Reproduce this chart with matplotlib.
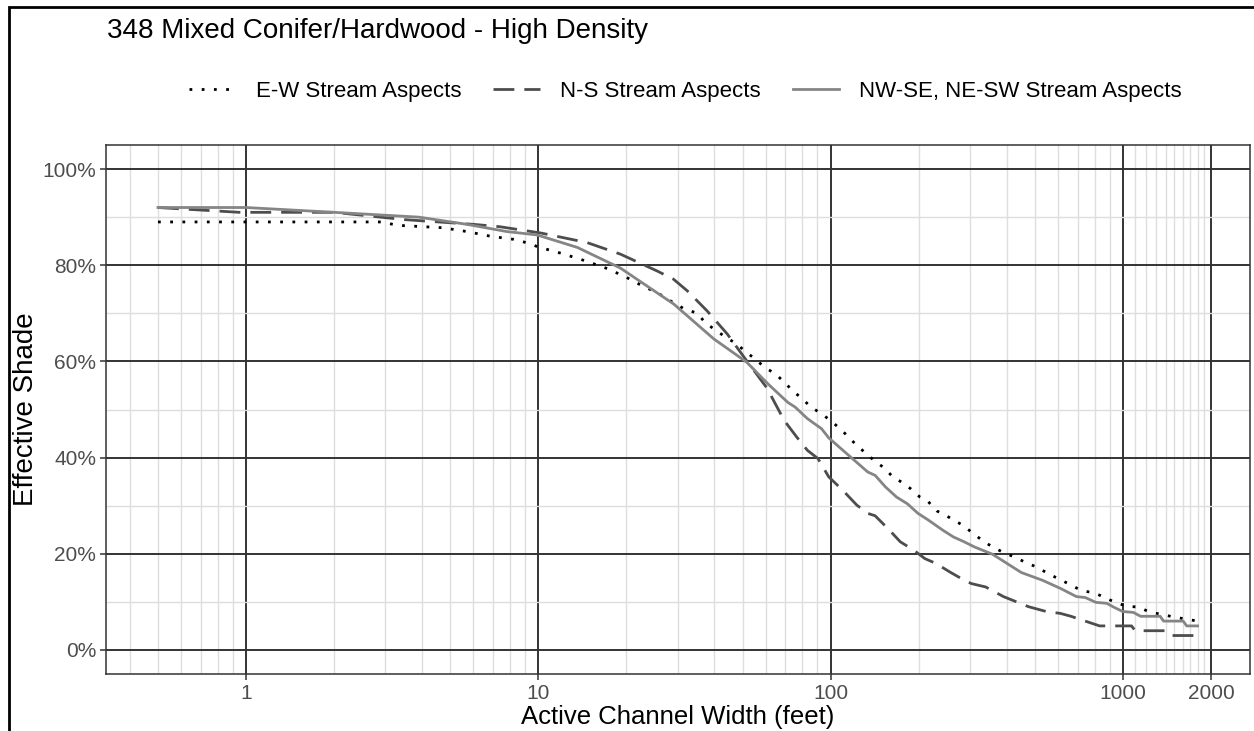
import matplotlib
matplotlib.use("Agg")
import matplotlib.pyplot as plt
from matplotlib.patches import Rectangle

plt.rcParams['font.family'] = ['Liberation Sans', 'DejaVu Sans']

# values (width in feet, effective shade in %)
ew_width = [0.5, 2.9, 3.3, 4.7, 5.7, 6.9, 8.2, 9.1, 10, 12.1, 14.5, 17.4, 20.6, 22.7,
            25.5, 29, 31.4, 35, 37.3, 40.2, 43.6, 47.5, 51.3, 55.4, 59.4, 64.7, 69.4,
            74.4, 79.8, 85.6, 93.2, 100.8, 108.7, 115, 123, 132, 142, 153, 163, 176,
            188, 202, 216, 231, 249, 267, 286, 307, 332, 360, 393, 430, 468, 509, 557,
            607, 664, 723, 797, 866, 948, 1032, 1132, 1232, 1359, 1478, 1800]
ew_shade = [89, 89, 88.3, 87.8, 87, 86, 85.4, 84.7, 83.8, 82.4, 80.9, 79.2, 77.1, 75.7,
            74.3, 72.2, 71, 70, 68, 66.6, 65.1, 63.7, 62, 60.4, 58.8, 57.4, 55.7,
            53.8, 52.3, 50.5, 49.1, 47.5, 45.8, 44.3, 42.5, 40.9, 39.2, 37.8, 36, 34.8,
            33.5, 31.8, 30.8, 28.9, 27.9, 26.8, 25.8, 24.2, 22.7, 21.3, 20.2, 19.2, 18.1,
            17.2, 15.8, 14.7, 13.5, 12.3, 11.9, 10.9, 9.8, 9.1, 8.9, 7.9, 7.4, 6.9, 6]

ns_width = [0.5, 0.95, 2.0, 3.46, 6, 7.4, 10.2, 14.7, 19.1, 25.5, 29, 32.3, 37.8, 44.3,
            51.8, 60.5, 69.4, 76.5, 83.3, 90.5, 98.5, 110, 123, 134, 142, 159, 173, 193,
            210, 229, 256, 279, 303, 339, 390, 475, 546, 611, 664, 743, 832, 1070, 1101,
            1400, 1457, 1800]
ns_shade = [92, 91, 91, 89.5, 88.5, 88, 86.7, 84.7, 82.3, 78.8, 77.1, 74.7, 70.5, 65.7,
            60, 54.5, 47.7, 44.3, 41.5, 39.8, 36, 33.2, 30.1, 28.4, 27.9, 24.9, 22.5, 20.7,
            19, 18, 16.2, 14.9, 13.8, 13.1, 11.1, 9, 8, 7.6, 7, 6, 5, 5, 4,
            4, 3, 3]

nw_width = [0.5, 1.0, 2.0, 3.9, 5.7, 7.8, 9.9, 13.6, 19.1, 29.1, 39.8, 45.5, 51.7, 61.1,
            71.3, 75.6, 83.3, 93.1, 98.5, 116.6, 134, 142, 154, 168, 183, 199, 216, 242,
            263, 286, 311, 358, 401, 449, 530, 611, 693, 743, 808, 880, 930, 998, 1086,
            1149, 1340, 1377, 1607, 1652, 1800]
nw_shade = [92, 92, 91, 90, 88.5, 87, 86.3, 83.7, 79.4, 71.9, 64.7, 62.2, 59.8, 55.3,
            51.5, 50.5, 48.1, 46, 44.1, 40.2, 37, 36.3, 33.9, 31.8, 30.4, 28.4, 27, 24.9,
            23.5, 22.5, 21.4, 19.9, 18, 16.1, 14.5, 12.8, 11.1, 10.9, 9.9, 9.7, 8.9, 8, 7.8,
            7, 7, 6, 6, 5, 5]

x_major = [1, 10, 100, 1000, 2000]
x_minor = ([0.4, 0.5, 0.6, 0.7, 0.8, 0.9] + list(range(2, 10)) + list(range(20, 100, 10))
           + list(range(200, 1000, 100)) + list(range(1100, 2000, 100)))
y_major = [0, 20, 40, 60, 80, 100]
y_minor = [10, 30, 50, 70, 90]

W, H = 1254, 731
fig = plt.figure(figsize=(W / 100, H / 100), dpi=100)
ax = fig.add_axes([106 / W, 57 / H, 1144 / W, 529 / H])

ax.plot(ew_width, ew_shade, color='black', lw=2, linestyle=(0, (1, 3.4)),
        label='E-W Stream Aspects')
ax.plot(ns_width, ns_shade, color='#4d4d4d', lw=2, linestyle=(0, (7.5, 3.6)),
        label='N-S Stream Aspects')
ax.plot(nw_width, nw_shade, color='#858585', lw=2, linestyle='-',
        label='NW-SE, NE-SW Stream Aspects')

ax.set_xscale('log')
ax.set_xlim(0.332, 2720)
ax.set_ylim(-5, 105)
ax.set_xticks(x_major)
ax.set_xticklabels([str(v) for v in x_major])
ax.set_xticks(x_minor, minor=True)
ax.set_xticklabels([], minor=True)
ax.set_yticks(y_major)
ax.set_yticklabels([f"{v}%" for v in y_major])
ax.set_yticks(y_minor, minor=True)

ax.set_axisbelow(True)
ax.grid(which='major', color='#333333', lw=1.4)
ax.grid(which='minor', color='#dedede', lw=1.0)
ax.tick_params(which='major', length=4, width=1.1, color='#333333',
               labelsize=15, labelcolor='#4d4d4d', pad=3)
ax.tick_params(which='minor', length=0)
for s in ax.spines.values():
    s.set_color('#333333')
    s.set_linewidth(1.1)

ax.set_xlabel("Active Channel Width (feet)", fontsize=18.5)
ax.xaxis.label.set_va('center')
ax.xaxis.set_label_coords(0.5, (674 - 717) / 529)
ax.set_ylabel("Effective Shade", fontsize=20)
ax.yaxis.label.set_va('center')
ax.yaxis.set_label_coords((26 - 106) / 1144, 0.5)

fig.text(107 / W, 1 - 38.5 / H, "348 Mixed Conifer/Hardwood - High Density",
         fontsize=20, va='baseline', ha='left')

fig.legend(loc='center', bbox_to_anchor=(685.5 / W, 1 - 91 / H), ncol=3,
           frameon=False, fontsize=16, handlelength=2.1, handletextpad=0.9,
           columnspacing=1.45, borderpad=0, borderaxespad=0)

fig.add_artist(Rectangle((8.5 / W, -0.1), 1.2, 1.1 - 7.5 / H, transform=fig.transFigure,
                         fill=False, edgecolor='black', lw=2))

fig.savefig('out.png', dpi=100)
